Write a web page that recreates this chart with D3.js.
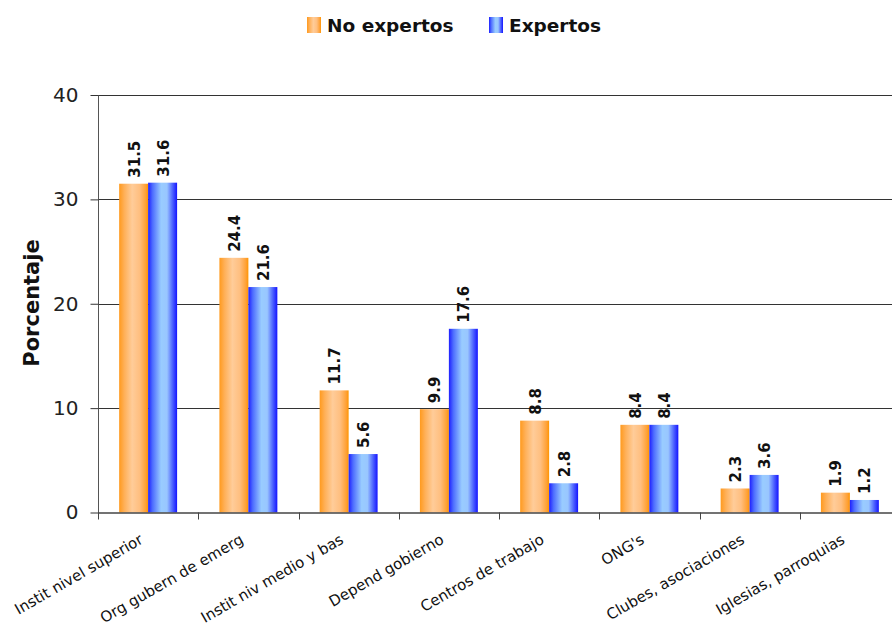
<!DOCTYPE html>
<html>
<head>
<meta charset="utf-8">
<script src="https://cdn.jsdelivr.net/npm/d3@7/dist/d3.min.js"></script>
<style>
  html, body { margin: 0; padding: 0; background: #fff; }
  svg { display: block; }
</style>
</head>
<body>
<svg id="chart" width="892" height="626"></svg>
<script>
// Categories and the two survey groups (percentages)
const categories = [
  "Instit nivel superior", "Org gubern de emerg", "Instit niv medio y bas",
  "Depend gobierno", "Centros de trabajo", "ONG's",
  "Clubes, asociaciones", "Iglesias, parroquias"
];
const noExpertos = [31.5, 24.4, 11.7, 9.9, 8.8, 8.4, 2.3, 1.9];
const expertos   = [31.6, 21.6, 5.6, 17.6, 2.8, 8.4, 3.6, 1.2];
const seriesNames = ["No expertos", "Expertos"];
const yTicks = [0, 10, 20, 30, 40];
const yTitle = "Porcentaje";

const svg = d3.select("#chart");
const margin = { left: 98, top: 95, right: 900, bottom: 512.5 };

const x = d3.scaleBand().domain(categories).range([margin.left, margin.right]);
const xs = d3.scaleBand().domain(seriesNames).range([0, x.bandwidth()]).paddingInner(0).paddingOuter(0.73);
const y = d3.scaleLinear().domain([0, 40]).range([margin.bottom, margin.top]);

// Cylinder-like horizontal gradients for the bars
const defs = svg.append("defs");
function grad(id, stops) {
  const g = defs.append("linearGradient").attr("id", id)
    .attr("x1", "0%").attr("x2", "100%").attr("y1", "0%").attr("y2", "0%");
  stops.forEach(([o, c]) => g.append("stop").attr("offset", o).attr("stop-color", c));
}
grad("gOrange", [["0%", "#ff9a1e"], ["18%", "#ffb058"], ["45%", "#ffcc99"], ["70%", "#ffbf80"], ["92%", "#ffa033"], ["100%", "#ff9500"]]);
grad("gBlue", [["0%", "#1e1eff"], ["15%", "#4d6cff"], ["45%", "#99ccff"], ["65%", "#99c6ff"], ["85%", "#4a5eff"], ["100%", "#1414ff"]]);
const fills = { "No expertos": "url(#gOrange)", "Expertos": "url(#gBlue)" };

// Gridlines
svg.append("g")
  .selectAll("line").data(yTicks.filter(d => d > 0)).join("line")
  .attr("x1", margin.left).attr("x2", 892)
  .attr("y1", d => Math.round(y(d)) + 0.5).attr("y2", d => Math.round(y(d)) + 0.5)
  .attr("stroke", "#333").attr("stroke-width", 1);

// Y axis
const yAxis = svg.append("g")
  .attr("transform", `translate(${margin.left + 0.5},0)`)
  .call(d3.axisLeft(y).tickValues(yTicks).tickSize(8).tickPadding(12).tickFormat(d3.format("d")));
yAxis.select(".domain").attr("stroke", "#555").attr("d", `M0,${margin.top}V${margin.bottom + 1}`);
yAxis.selectAll(".tick line").attr("stroke", "#333");
yAxis.selectAll(".tick text")
  .attr("font-family", "'DejaVu Sans', sans-serif").attr("font-size", 20).attr("fill", "#222");

// Bars
const data = categories.map((c, i) => ({ c, vals: [
  { s: "No expertos", v: noExpertos[i] }, { s: "Expertos", v: expertos[i] }
]}));
const groups = svg.append("g").selectAll("g").data(data).join("g")
  .attr("transform", d => `translate(${x(d.c)},0)`);
groups.selectAll("rect").data(d => d.vals).join("rect")
  .attr("x", d => xs(d.s)).attr("width", xs.bandwidth())
  .attr("y", d => y(d.v)).attr("height", d => y(0) - y(d.v))
  .attr("fill", d => fills[d.s]);

// Value labels, rotated above each bar
groups.selectAll("text").data(d => d.vals).join("text")
  .attr("transform", d => `translate(${xs(d.s) + xs.bandwidth() / 2 + 6},${y(d.v) - 6}) rotate(-90)`)
  .attr("font-family", "'DejaVu Sans', sans-serif").attr("font-weight", "bold")
  .attr("font-size", 15).attr("fill", "#111")
  .text(d => d.v.toFixed(1));

// X axis
const xAxis = svg.append("g")
  .attr("transform", `translate(0,${margin.bottom})`);
xAxis.append("line").attr("x1", margin.left).attr("x2", 892).attr("y1", 0.5).attr("y2", 0.5)
  .attr("stroke", "#444").attr("stroke-width", 1.5);
xAxis.selectAll("line.tk").data(d3.range(categories.length + 1)).join("line").attr("class", "tk")
  .attr("x1", i => Math.round(margin.left + i * x.step()) + 0.5)
  .attr("x2", i => Math.round(margin.left + i * x.step()) + 0.5)
  .attr("y1", 0).attr("y2", 7).attr("stroke", "#444");
xAxis.selectAll("text").data(categories).join("text")
  .attr("transform", d => `translate(${x(d) + x.bandwidth() / 2 - 4},${30}) rotate(-30)`)
  .attr("text-anchor", "end")
  .attr("font-family", "'DejaVu Sans', sans-serif").attr("font-size", 15).attr("fill", "#111")
  .text(d => d);

// Y title
svg.append("text")
  .attr("transform", `translate(39,303) rotate(-90)`)
  .attr("text-anchor", "middle")
  .attr("font-family", "'DejaVu Sans', sans-serif").attr("font-weight", "bold")
  .attr("font-size", 21).attr("fill", "#111")
  .text(yTitle);

// Legend
const legend = svg.append("g");
const legendX = [307, 489];
seriesNames.forEach((s, i) => {
  legend.append("rect").attr("x", legendX[i]).attr("y", 17).attr("width", 14).attr("height", 16)
    .attr("fill", fills[s]);
  legend.append("text").attr("x", legendX[i] + 20).attr("y", 32)
    .attr("font-family", "'DejaVu Sans', sans-serif").attr("font-weight", "bold")
    .attr("font-size", 18.5).attr("fill", "#111")
    .text(s);
});
</script>
</body>
</html>
